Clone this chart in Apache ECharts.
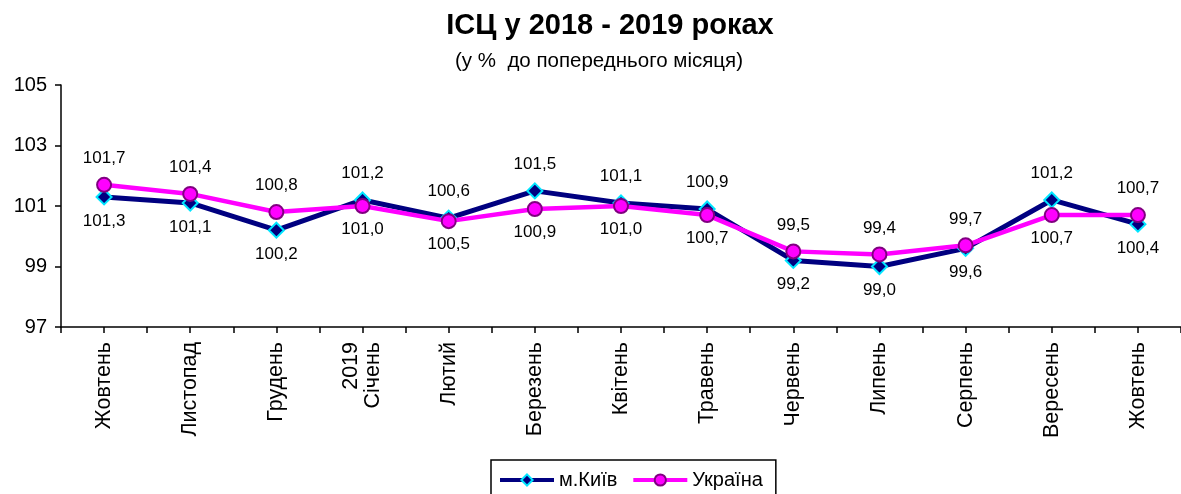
<!DOCTYPE html>
<html>
<head>
<meta charset="utf-8">
<script src="https://cdn.jsdelivr.net/npm/echarts@6/dist/echarts.min.js"></script>
<style>
  html, body { margin: 0; padding: 0; background: #fff; }
  #chart { width: 1181px; height: 494px; }
</style>
</head>
<body>
<div id="chart"></div>
<script>
// Data
var months = ['Жовтень', 'Листопад', 'Грудень', '2019\nСічень', 'Лютий', 'Березень',
    'Квітень', 'Травень', 'Червень', 'Липень', 'Серпень', 'Вересень', 'Жовтень'];
var kyiv = [101.3, 101.1, 100.2, 101.2, 100.6, 101.5, 101.1, 100.9, 99.2, 99.0, 99.6, 101.2, 100.4];
var ukraine = [101.7, 101.4, 100.8, 101.0, 100.5, 100.9, 101.0, 100.7, 99.5, 99.4, 99.7, 100.7, 100.7];

// label placement (above / below each point)
var kyivPos = ['bottom', 'bottom', 'bottom', 'top', 'top', 'top', 'top', 'top', 'bottom', 'bottom', 'bottom', 'top', 'bottom'];
var ukrPos = ['top', 'top', 'top', 'bottom', 'bottom', 'bottom', 'bottom', 'bottom', 'top', 'top', 'top', 'bottom', 'top'];

var fmt = function(v) { return v.toFixed(1).replace('.', ','); };

var buildData = function(values, pos) {
    return values.map(function(v, i) {
        return {
            value: v,
            label: { position: pos[i], distance: pos[i] === 'top' ? 10 : 7 }
        };
    });
};

var chart = echarts.init(document.getElementById('chart'));

chart.setOption({
    animation: false,
    textStyle: { fontFamily: 'Liberation Sans, Arial, sans-serif' },
    title: [{
        text: 'ІСЦ у 2018 - 2019 роках',
        left: 605,
        top: 6,
        textAlign: 'center',
        textStyle: { fontSize: 29, fontWeight: 'bold', color: '#000', fontFamily: 'Liberation Sans, Arial' }
    }, {
        text: '(у %  до попереднього місяця)',
        left: 594,
        top: 46,
        textAlign: 'center',
        textStyle: { fontSize: 20.5, fontWeight: 'normal', color: '#000', fontFamily: 'Liberation Sans, Arial' }
    }],
    legend: {
        left: 491,
        top: 460,
        padding: [10, 13, 12, 7],
        itemGap: 14,
        itemWidth: 54,
        itemHeight: 14,
        borderColor: '#000',
        borderWidth: 1.5,
        lineStyle: { width: 4 },
        textStyle: { fontSize: 20, color: '#000' },
        data: ['м.Київ', 'Україна']
    },
    grid: { left: 61, right: -8, top: 85, bottom: 167, containLabel: false },
    xAxis: [{
        type: 'category',
        data: months,
        boundaryGap: true,
        axisLine: { lineStyle: { color: '#000', width: 1.5 } },
        axisTick: { show: true, length: 6, lineStyle: { color: '#000', width: 1.5 } },
        axisLabel: {
            rotate: 90,
            interval: 0,
            fontSize: 21.5,
            color: '#000',
            margin: 15,
            lineHeight: 22
        },
        splitLine: { show: false }
    }, {
        type: 'category',
        data: months,
        position: 'bottom',
        boundaryGap: true,
        axisLine: { show: false },
        axisTick: { show: true, alignWithLabel: true, length: 6, lineStyle: { color: '#000', width: 1.5 } },
        axisLabel: { show: false },
        splitLine: { show: false }
    }],
    yAxis: {
        type: 'value',
        min: 97,
        max: 105,
        interval: 2,
        axisLine: { show: true, lineStyle: { color: '#000', width: 1.5 } },
        axisTick: { show: true, length: 6, lineStyle: { color: '#000', width: 1.5 } },
        axisLabel: { fontSize: 20, color: '#000', margin: 14 },
        splitLine: { show: false }
    },
    series: [{
        name: 'м.Київ',
        type: 'line',
        data: buildData(kyiv, kyivPos),
        symbol: 'diamond',
        symbolSize: 15,
        z: 3,
        lineStyle: { color: '#000080', width: 5 },
        itemStyle: { color: '#000080', borderColor: '#00e5ff', borderWidth: 2 },
        label: { show: true, fontSize: 17, color: '#000', formatter: function(p) { return fmt(p.value); } }
    }, {
        name: 'Україна',
        type: 'line',
        data: buildData(ukraine, ukrPos),
        symbol: 'circle',
        symbolSize: 14,
        z: 4,
        lineStyle: { color: '#ff00ff', width: 4.5 },
        itemStyle: { color: '#ff00ff', borderColor: '#800080', borderWidth: 2 },
        label: { show: true, fontSize: 17, color: '#000', formatter: function(p) { return fmt(p.value); } }
    }]
});
</script>
</body>
</html>
